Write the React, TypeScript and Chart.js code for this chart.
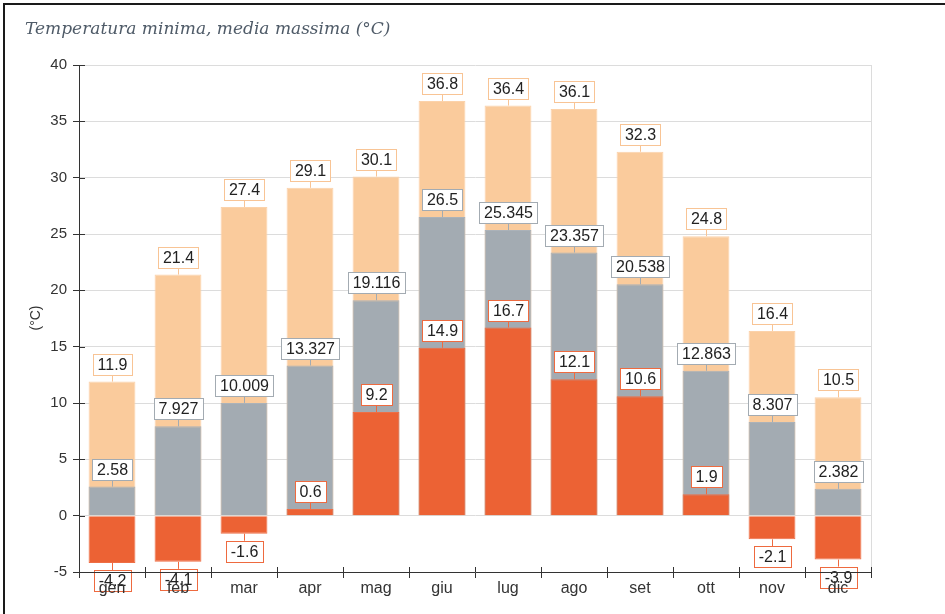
import React, { useEffect, useRef } from "react";
import { Chart, registerables } from "chart.js";

Chart.register(...registerables);

const months = ["gen", "feb", "mar", "apr", "mag", "giu", "lug", "ago", "set", "ott", "nov", "dic"];
const maxTemps = [11.9, 21.4, 27.4, 29.1, 30.1, 36.8, 36.4, 36.1, 32.3, 24.8, 16.4, 10.5];
const meanTemps = [2.58, 7.927, 10.009, 13.327, 19.116, 26.5, 25.345, 23.357, 20.538, 12.863, 8.307, 2.382];
const minTemps = [-4.2, -4.1, -1.6, 0.6, 9.2, 14.9, 16.7, 12.1, 10.6, 1.9, -2.1, -3.9];

const titleText = "Temperatura minima, media massima (°C)";
const yTitle = "(°C)";

const COL_MAX = "#FACB9C";
const COL_MEAN = "#A3ABB2";
const COL_MIN = "#EC6234";

const labelPlugin = {
  id: "valueLabels",
  beforeDatasetsDraw(chart: any) {
    const { ctx, chartArea } = chart;
    ctx.save();
    ctx.strokeStyle = "#dcdcdc";
    ctx.lineWidth = 1;
    ctx.beginPath();
    ctx.moveTo(Math.round(chartArea.right) + 0.5, chartArea.top);
    ctx.lineTo(Math.round(chartArea.right) + 0.5, chartArea.bottom);
    ctx.stroke();
    ctx.restore();
  },
  afterDatasetsDraw(chart: any) {
    const ctx = chart.ctx;
    const borders = ["#EE6A3F", "#A3ABB2", "#F8C495"];
    ctx.save();
    ctx.font = "16px Arial, 'Liberation Sans', sans-serif";
    ctx.textAlign = "center";
    ctx.textBaseline = "middle";
    for (const di of [2, 1, 0]) {
      const meta = chart.getDatasetMeta(di);
      const data = chart.data.datasets[di].data as number[];
      meta.data.forEach((el: any, i: number) => {
        const v = data[i];
        const txt = String(v);
        const x = Math.round(el.x);
        const y = el.y;
        const w = Math.round(ctx.measureText(txt).width) + 9;
        const h = 21;
        const gap = 7;
        let boxTop;
        ctx.strokeStyle = borders[di];
        ctx.lineWidth = 1;
        ctx.beginPath();
        if (v >= 0) {
          ctx.moveTo(x + 0.5, y);
          ctx.lineTo(x + 0.5, y - gap);
          boxTop = Math.round(y - gap - h);
        } else {
          ctx.moveTo(x + 0.5, y);
          ctx.lineTo(x + 0.5, y + gap);
          boxTop = Math.round(y + gap);
        }
        ctx.stroke();
        const left = Math.round(x - w / 2);
        ctx.fillStyle = "#ffffff";
        ctx.fillRect(left, boxTop, w, h);
        ctx.strokeRect(left + 0.5, boxTop + 0.5, w, h);
        ctx.fillStyle = "#222222";
        ctx.fillText(txt, x + 0.5, boxTop + h / 2 + 1);
      });
    }
    ctx.restore();
  },
  afterDraw(chart: any) {
    const { ctx, chartArea, scales } = chart;
    ctx.save();
    // inner halves of tick marks
    ctx.strokeStyle = "#333";
    ctx.lineWidth = 1;
    ctx.beginPath();
    const ys = scales.y;
    ys.ticks.forEach((_t: any, i: number) => {
      const py = Math.round(ys.getPixelForTick(i)) + 0.5;
      ctx.moveTo(chartArea.left, py);
      ctx.lineTo(chartArea.left + 6, py);
    });
    const n = months.length;
    for (let i = 0; i <= n; i++) {
      const px = Math.round(chartArea.left + ((chartArea.right - chartArea.left) * i) / n) + 0.5;
      ctx.moveTo(px, chartArea.bottom);
      ctx.lineTo(px, chartArea.bottom - 5);
    }
    ctx.stroke();
    // title
    ctx.fillStyle = "#4f5b68";
    ctx.font = "italic 17px 'DejaVu Serif', serif";
    ctx.textAlign = "left";
    ctx.textBaseline = "alphabetic";
    ctx.fillText(titleText, 25, 34);
    // y title
    ctx.translate(36, 318);
    ctx.rotate(-Math.PI / 2);
    ctx.textAlign = "center";
    ctx.textBaseline = "middle";
    ctx.fillStyle = "#333";
    ctx.font = "14px Arial, 'Liberation Sans', sans-serif";
    ctx.fillText(yTitle, 0, 0);
    ctx.restore();
  },
};

export default function App() {
  const ref = useRef<HTMLCanvasElement>(null);
  useEffect(() => {
    if (!ref.current) return;
    const chart = new Chart(ref.current, {
      type: "bar",
      data: {
        labels: months,
        datasets: [
          {
            label: "minima",
            data: minTemps,
            backgroundColor: COL_MIN,
            borderColor: "#EE6E45",
            borderWidth: 1,
            grouped: false,
            categoryPercentage: 1,
            barPercentage: 0.71,
          } as any,
          {
            label: "media",
            data: meanTemps,
            backgroundColor: COL_MEAN,
            borderColor: "#ABB2B9",
            borderWidth: 1,
            grouped: false,
            categoryPercentage: 1,
            barPercentage: 0.71,
          } as any,
          {
            label: "massima",
            data: maxTemps,
            backgroundColor: COL_MAX,
            borderColor: "#FBD2AA",
            borderWidth: 1,
            grouped: false,
            categoryPercentage: 1,
            barPercentage: 0.71,
          } as any,
        ],
      },
      options: {
        animation: false,
        responsive: true,
        maintainAspectRatio: false,
        layout: { padding: { left: 0, top: 65, right: 74, bottom: 0 } },
        plugins: {
          legend: { display: false },
          tooltip: { enabled: false },
          title: { display: false },
        },
        scales: {
          x: {
            offset: true,
            grid: {
              offset: true,
              drawOnChartArea: false,
              drawTicks: true,
              tickLength: 6,
              tickColor: "#333",
            },
            border: { display: true, color: "#333", width: 1, z: 1 },
            ticks: {
              z: 1,
              color: "#333",
              font: { family: "Arial, 'Liberation Sans', sans-serif", size: 16 },
              padding: 1,
              maxRotation: 0,
            },
            afterFit: (s: any) => {
              s.height = 42;
            },
          } as any,
          y: {
            min: -5,
            max: 40,
            ticks: {
              stepSize: 5,
              color: "#333",
              font: { family: "Arial, 'Liberation Sans', sans-serif", size: 15 },
              padding: 6,
            },
            grid: {
              color: "#dcdcdc",
              tickColor: "#333",
              tickLength: 6,
            },
            border: { display: true, color: "#333", width: 1 },
            afterFit: (s: any) => {
              s.width = 79;
            },
          } as any,
        },
      },
      plugins: [labelPlugin],
    });
    return () => chart.destroy();
  }, []);

  return (
    <div style={{ position: "absolute", left: 0, top: 0, width: 945, height: 614, overflow: "hidden", background: "#fff" }}>
      <div
        style={{
          position: "absolute",
          left: 3,
          top: 3,
          width: 942,
          height: 611,
          borderTop: "2px solid #1a1a1a",
          borderLeft: "2px solid #1a1a1a",
          boxSizing: "border-box",
        }}
      />
      <canvas ref={ref} style={{ position: "absolute", left: 0, top: 0 }} />
    </div>
  );
}
